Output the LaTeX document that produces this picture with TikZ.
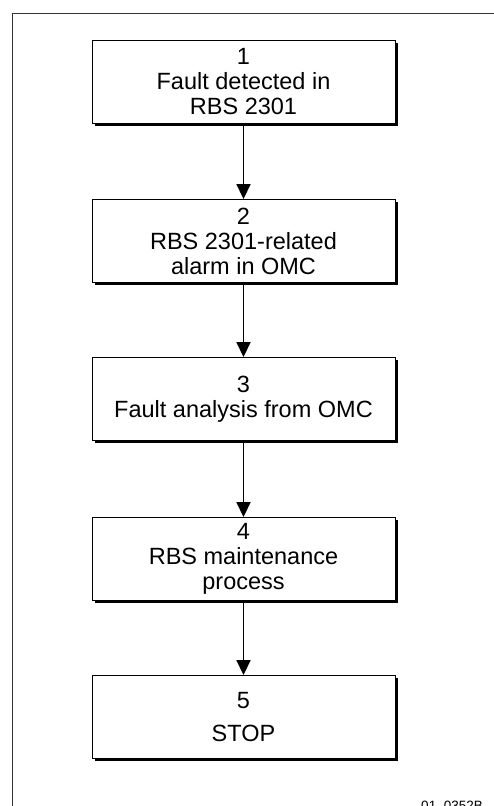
\documentclass[tikz,border=0pt]{standalone}
\usepackage{fontspec}
\setmainfont{Liberation Sans}
\usetikzlibrary{arrows.meta}
\begin{document}
\begin{tikzpicture}[x=1pt,y=-1pt,
  stepbox/.style={draw=black,line width=0.9pt,fill=white,minimum width=303pt,minimum height=83pt,
    inner sep=0pt,align=center,font=\fontsize{23.5}{25}\selectfont},
  flow/.style={line width=1.8pt,-{Triangle[length=15pt,width=14pt]}},
  frameline/.style={line width=1pt,draw=black!80}]
\useasboundingbox (0,0) rectangle (494,806);
\begin{scope}
\clip (0,0) rectangle (494,806);
% open page frame
\draw[frameline] (12,806) -- (12,13) -- (494,13);
% drop shadows under the boxes
\foreach \t in {40,199,357,517,675}
  \fill[black] (94.5,\t+2.5) rectangle (397.5,\t+85.5);
% process steps
\node[stepbox] (s1) at (243.5,82) {1\\Fault detected in\\RBS 2301};
\node[stepbox] (s2) at (243.5,241) {2\\RBS 2301-related\\alarm in OMC};
\node[stepbox] (s3) at (243.5,399) {3\\Fault analysis from OMC};
\node[stepbox] (s4) at (243.5,559) {4\\RBS maintenance\\process};
\node[stepbox] (s5) at (243.5,717) {5\\[8pt]STOP};
% connectors
\draw[flow] (s1.south) ++(0,2.5) -- (s2.north);
\draw[flow] (s2.south) ++(0,2.5) -- (s3.north);
\draw[flow] (s3.south) ++(0,2.5) -- (s4.north);
\draw[flow] (s4.south) ++(0,2.5) -- (s5.north);
% drawing number
\node[anchor=base east,inner sep=0pt,font=\fontsize{13.5}{16}\selectfont] (id) at (483,810) {01\_0352B};
\end{scope}
\end{tikzpicture}
\end{document}
